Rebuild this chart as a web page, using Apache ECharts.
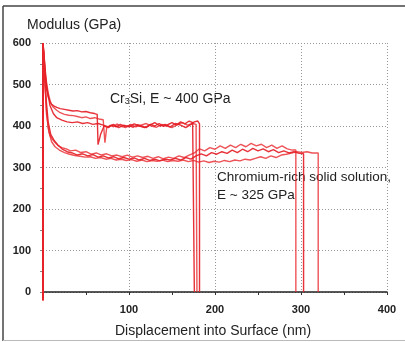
<!DOCTYPE html>
<html><head><meta charset="utf-8">
<script src="https://cdn.jsdelivr.net/npm/echarts@6/dist/echarts.min.js"></script>
<style>html,body{margin:0;padding:0;background:#fff}#c{width:405px;height:342px}</style>
</head><body><div id="c"></div>
<script>
// Displacement (nm), Modulus (GPa)
const cr3siA = [[0,-20],[0,600],[2,540],[4,490],[6,470],[8,460],[10,452],[13,448],[16,445],[20,442],[25,440],[30,438],[35,436],[40,437],[45,434],[50,435],[55,432],[60,430],[63,428],[64,355],[67,380],[71,400],[76,396],[80,402],[85,398],[90,404],[95,399],[100,401],[105,397],[110,403],[115,400],[120,396],[125,404],[130,400],[135,406],[140,399],[145,403],[150,408],[155,402],[160,410],[165,405],[170,412],[174,408],[176,405],[176,0]];
const cr3siB = [[0,-20],[0,600],[3,520],[6,480],[9,455],[12,445],[16,438],[20,432],[25,428],[30,426],[35,425],[40,423],[45,420],[50,422],[55,418],[60,420],[65,417],[70,415],[72,360],[74,395],[78,402],[82,398],[86,405],[90,400],[96,396],[102,404],[108,398],[114,402],[120,406],[126,400],[132,397],[138,404],[144,400],[150,396],[156,403],[162,408],[168,402],[174,406],[178,404],[179,0]];
const cr3siC = [[0,-20],[0,600],[4,500],[8,450],[12,430],[16,420],[22,414],[28,410],[34,408],[40,410],[46,406],[52,408],[58,404],[64,406],[70,402],[76,398],[82,404],[88,396],[94,402],[100,398],[106,405],[112,400],[118,396],[124,402],[130,408],[136,400],[142,404],[148,398],[154,406],[160,402],[166,396],[172,404],[176,410],[180,412],[182,405],[182,0]];
const crRichA = [[0,-20],[0,600],[2,520],[4,440],[6,395],[8,378],[11,368],[14,360],[18,352],[22,348],[27,345],[32,340],[38,342],[44,336],[50,338],[56,332],[62,335],[68,330],[74,333],[80,328],[86,330],[92,326],[98,330],[104,325],[110,328],[116,324],[122,327],[128,322],[134,326],[140,321],[146,325],[152,322],[158,328],[164,324],[170,330],[176,335],[182,345],[188,340],[194,348],[200,344],[206,352],[212,346],[218,354],[224,348],[230,356],[236,350],[242,358],[248,352],[254,356],[260,348],[266,354],[272,346],[278,352],[284,345],[290,342],[294,342],[294,0]];
const crRichB = [[0,-20],[0,600],[3,480],[6,410],[9,380],[13,365],[17,355],[22,345],[28,338],[34,335],[40,330],[46,333],[52,328],[58,331],[64,325],[70,328],[76,323],[82,326],[88,321],[94,324],[100,320],[106,323],[112,318],[118,322],[124,317],[130,320],[136,316],[142,320],[148,318],[154,322],[160,318],[166,324],[172,320],[178,328],[184,333],[190,328],[196,336],[202,332],[208,338],[214,334],[220,342],[226,336],[232,344],[238,338],[244,346],[250,340],[256,345],[262,338],[268,343],[274,336],[280,340],[286,335],[292,338],[298,334],[303,333],[303,0]];
const crRichC = [[0,-20],[0,600],[4,430],[7,385],[10,362],[14,350],[19,342],[25,336],[31,332],[37,329],[43,327],[49,325],[55,326],[61,322],[67,324],[73,320],[79,322],[85,318],[91,320],[97,317],[103,319],[109,315],[115,318],[121,314],[127,317],[133,315],[139,318],[145,314],[151,317],[157,315],[163,318],[169,314],[175,317],[181,313],[187,316],[193,312],[199,315],[205,313],[211,317],[217,314],[223,318],[229,316],[235,320],[241,318],[247,322],[253,326],[259,322],[265,328],[271,324],[277,330],[283,332],[289,335],[295,338],[301,336],[307,338],[313,335],[320,335],[320,0]];
const seriesData = [cr3siA, cr3siB, cr3siC, crRichA, crRichB, crRichC];
const xTicks = [0, 100, 200, 300, 400];
const yTicks = [0, 100, 200, 300, 400, 500, 600];

const chart = echarts.init(document.getElementById('c'));
const font = "'Liberation Sans', Arial, sans-serif";
chart.setOption({
  animation: false,
  grid: {left: 43, right: 18, top: 43, bottom: 50},
  xAxis: {
    type: 'value', min: xTicks[0], max: xTicks[xTicks.length-1], interval: 100,
    axisLine: {show: true, onZero: false, lineStyle: {color: '#222', width: 1.5}},
    axisTick: {show: true, length: 3, inside: false, lineStyle: {color: '#333'}},
    minorTick: {show: true, splitNumber: 2, length: 3, lineStyle: {color: '#333'}},
    axisLabel: {showMinLabel: false, margin: 12, color: '#222', fontSize: 11, fontWeight: 'bold', fontFamily: font},
    splitLine: {show: true, lineStyle: {color: '#999', type: [1, 2], width: 1}}
  },
  yAxis: {
    type: 'value', min: yTicks[0], max: yTicks[yTicks.length-1], interval: 100,
    axisLine: {show: true, lineStyle: {color: '#999', type: [1, 2]}},
    axisTick: {show: true, length: 3, lineStyle: {color: '#888'}},
    minorTick: {show: true, splitNumber: 2, length: 3, lineStyle: {color: '#888'}},
    axisLabel: {margin: 12, color: '#222', fontSize: 11, fontWeight: 'bold', fontFamily: font},
    splitLine: {show: true, lineStyle: {color: '#999', type: [1, 2], width: 1}}
  },
  series: seriesData.map((d, i) => ({
    type: 'line', data: d, symbol: 'none', clip: false,
    lineStyle: {color: i % 2 ? 'rgba(232,40,45,0.8)' : 'rgba(228,28,36,0.9)', width: 1.4},
    z: 3
  })),
  graphic: [
    {type: 'line', shape: {x1: 3, y1: 6, x2: 405, y2: 6}, style: {stroke: '#444', lineWidth: 1.5}},
    {type: 'line', shape: {x1: 3, y1: 6, x2: 3, y2: 341}, style: {stroke: '#444', lineWidth: 1.5}},
    {type: 'line', shape: {x1: 3, y1: 340.5, x2: 405, y2: 340.5}, style: {stroke: '#bbb', lineWidth: 1}},
    {type: 'text', left: 27, top: 18, style: {text: 'Modulus (GPa)', font: "14px " + font, fill: '#222'}},
    {type: 'text', left: 110, top: 92, style: {text: '{a|Cr}{s|3}{a|Si, E ~ 400 GPa}', rich: {a: {fontSize: 14, fontFamily: font, fill: '#222', color: '#222'}, s: {fontSize: 9, fontFamily: font, fill: '#222', color: '#222', verticalAlign: 'bottom', padding: [6, 0, 0, 0]}}}},
    {type: 'text', left: 217, top: 170, style: {text: 'Chromium-rich solid solution,', font: "13.5px " + font, fill: '#222'}},
    {type: 'text', left: 217, top: 188, style: {text: 'E ~ 325 GPa', font: "13.5px " + font, fill: '#222'}},
    {type: 'text', left: 115, top: 324, style: {text: 'Displacement into Surface (nm)', font: "14px " + font, fill: '#222'}}
  ]
});
</script></body></html>
